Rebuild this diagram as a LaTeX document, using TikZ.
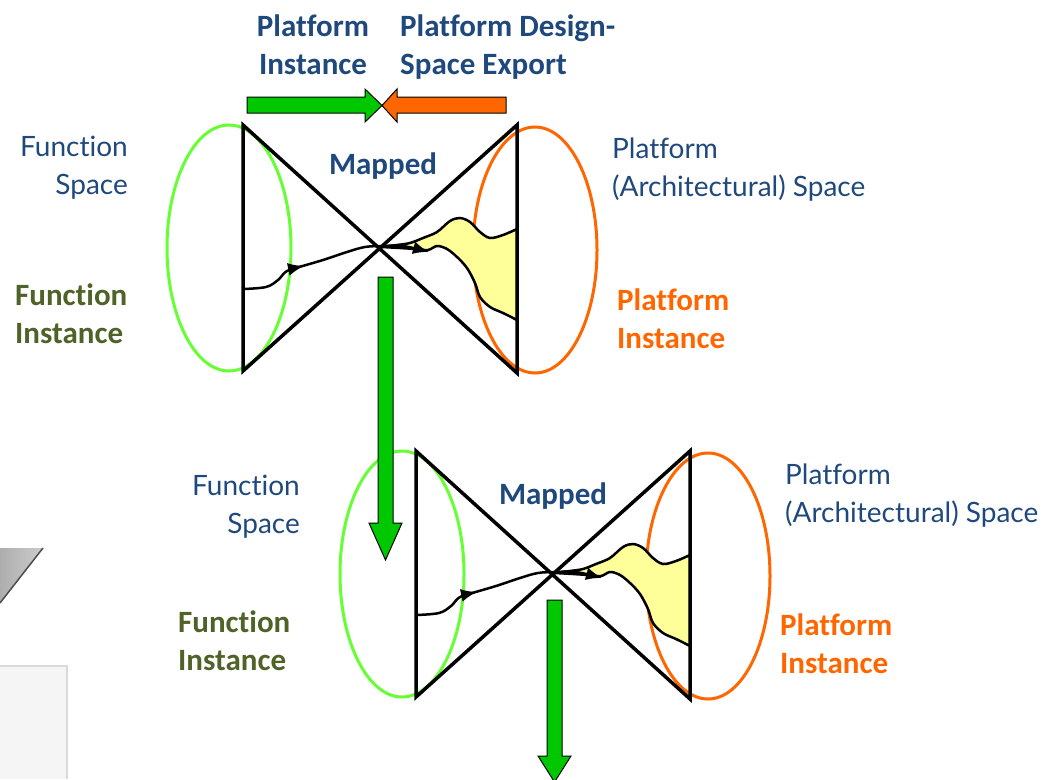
\documentclass[tikz,border=0pt]{standalone}
\usepackage{fontspec}
\setmainfont{Carlito}[Ligatures=NoCommon]
\newfontfamily\gillfont{Lato}[Ligatures=NoCommon]
\usetikzlibrary{arrows.meta}

\definecolor{titleblue}{HTML}{1F497D}
\definecolor{instolive}{HTML}{4F6228}
\definecolor{instorange}{HTML}{FF6600}
\definecolor{arrowgreen}{HTML}{00C800}
\definecolor{funcgreen}{HTML}{66FF33}
\definecolor{blobyellow}{HTML}{FFFF99}

\tikzstyle{boldlabel} = [font=\fontsize{31}{38}\selectfont\bfseries, inner sep=0pt]
\tikzstyle{plainlabel} = [font=\gillfont\fontsize{28}{38}\selectfont, text=titleblue, inner sep=0pt]
\tikzstyle{bowtie} = [draw, line width=3.5pt, line join=miter]
\tikzstyle{space} = [draw, line width=3pt]
\tikzstyle{blob} = [draw, fill=blobyellow, line width=2.5pt]
\tikzstyle{flow} = [draw, line width=2.5pt, -{Latex[length=16pt,width=13pt]}]
\tikzstyle{blockarrow} = [draw, line width=1pt, line join=miter]

\begin{document}
\begin{tikzpicture}[x=1pt, y=-1pt]
    \useasboundingbox (0,0) rectangle (1046,779);
    % Pieces of neighbouring slides at the left edge
    \fill[black!4] (0,666) rectangle (67,779);
    \draw[black!15, line width=1.5pt] (0,666) -- (67,666) -- (67,779);
    \shade[left color=black!32, right color=black!20] (0,548) -- (43,548) -- (0,603) -- cycle;
    \draw[black!70, line width=1.5pt] (43,548) -- (0,603);

    % Two mapping bow ties
    \foreach \dx/\dy in {0/0, 173/326} {
      \begin{scope}[shift={(\dx,\dy)}]
        \draw[space, funcgreen] (229,248) ellipse [x radius=62, y radius=123];
        \draw[space, instorange] (535,250) ellipse [x radius=62, y radius=123];
        \path[blob] plot[smooth, tension=0.55] coordinates {(382,247) (397,245) (410,243) (423,238)
            (437,232) (450,221) (460,218) (470,222) (480,232) (490,238) (503,235) (517,229)}
          -- (517,320)
          -- plot[smooth, tension=0.55] coordinates {(517,320) (503,313) (490,307) (480,297)
            (475,283) (467,268) (457,257) (447,249) (437,246) (428,250) (415,249) (400,248)}
          -- cycle;
        \path[bowtie] (243,125) -- (517,373) -- (517,125) -- (243,371) -- cycle;
        \path[flow] plot[smooth, tension=0.6] coordinates {(243,289) (266,287) (278,280) (287,271) (304,266)};
        \path[flow] plot[smooth, tension=0.6] coordinates {(299,267) (323,260) (347,252) (365,247)
            (383,246) (403,246) (429,252)};
      \end{scope}
    }

    % Block arrows
    \path[blockarrow, fill=arrowgreen] (247,97) -- (365,97) -- (365,89) -- (382,105.5)
        -- (365,122) -- (365,113) -- (247,113) -- cycle;
    \path[blockarrow, fill=instorange] (506,97) -- (397,97) -- (397,89) -- (382,105.5)
        -- (397,122) -- (397,113) -- (506,113) -- cycle;
    \path[blockarrow, fill=arrowgreen] (378,277) -- (393,277) -- (393,523) -- (402,523)
        -- (385.5,560) -- (369,523) -- (378,523) -- cycle;
    \path[blockarrow, fill=arrowgreen] (547,600) -- (562,600) -- (562,756) -- (571,756)
        -- (554.5,782) -- (538,756) -- (547,756) -- cycle;

    % Place labels
    \node[boldlabel, text=titleblue, align=center, anchor=north] (instexport) at (313,15) {Platform\\Instance};
    \node[boldlabel, text=titleblue, align=left, anchor=north west] (dsexport) at (400,15) {Platform Design-\\Space Export};

    \node[boldlabel, text=titleblue, anchor=base] (mapped1) at (383,174) {Mapped};
    \node[plainlabel, align=right, anchor=north east] (fspace1) at (128,136) {Function\\Space};
    \node[boldlabel, text=instolive, align=left, anchor=north west] (finst1) at (15,284) {Function\\Instance};
    \node[plainlabel, align=left, anchor=north west] (pspace1) at (612,138) {Platform\\(Architectural) Space};
    \node[boldlabel, text=instorange, align=left, anchor=north west] (pinst1) at (617,289) {Platform\\Instance};

    \node[boldlabel, text=titleblue, anchor=base] (mapped2) at (553,504) {Mapped};
    \node[plainlabel, align=right, anchor=north east] (fspace2) at (300,475) {Function\\Space};
    \node[boldlabel, text=instolive, align=left, anchor=north west] (finst2) at (178,611) {Function\\Instance};
    \node[plainlabel, align=left, anchor=north west] (pspace2) at (785,464) {Platform\\(Architectural) Space};
    \node[boldlabel, text=instorange, align=left, anchor=north west] (pinst2) at (780,614) {Platform\\Instance};
\end{tikzpicture}
\end{document}
